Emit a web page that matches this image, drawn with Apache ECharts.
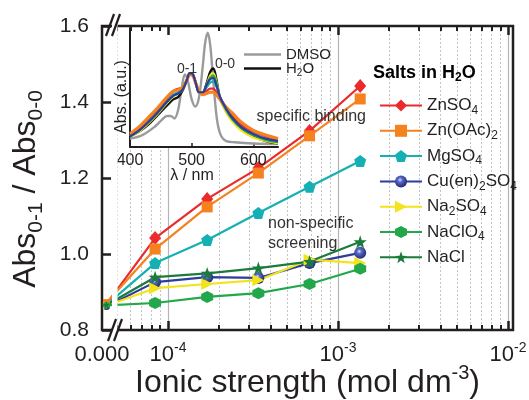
<!DOCTYPE html>
<html>
<head>
<meta charset="utf-8">
<script src="https://cdn.jsdelivr.net/npm/echarts@6.0.0/dist/echarts.min.js"></script>
<style>
	html, body { margin: 0; padding: 0; background: #fff; }
	#chart { width: 529px; height: 400px; }
</style>
</head>
<body>
<div id="chart"></div>
<script>
// ionic strength in mol dm-3, the first point is the salt free solution
const ionicStrength = [0, 8.4e-5, 1.7e-4, 3.4e-4, 6.8e-4, 1.35e-3]

// Abs(0-1) / Abs(0-0) per salt
const saltNames = ['ZnSO4', 'Zn(OAc)2', 'MgSO4', 'Cu(en)2SO4', 'Na2SO4', 'NaClO4', 'NaCl']
const znSO4 = [0.868, 1.042, 1.145, 1.226, 1.324, 1.442]
const znOAc2 = [0.872, 1.013, 1.124, 1.213, 1.311, 1.408]
const mgSO4 = [0.866, 0.976, 1.037, 1.108, 1.177, 1.245]
const cuEn2SO4 = [0.862, 0.926, 0.939, 0.937, 0.976, 1.003]
const na2SO4 = [0.864, 0.910, 0.921, 0.931, 0.985, 0.976]
const naClO4 = [0.865, 0.871, 0.887, 0.897, 0.921, 0.961]
const naCl = [0.866, 0.939, 0.949, 0.963, 0.980, 1.032]

// tick labels of the log axis (exponents of 10)
const xMajorExponents = [-4, -3, -2]
const zeroLabel = '0.000'

// inset: absorption spectra (normalised)
const dmsoWavelength = [400, 420, 440, 452, 460, 466, 472, 478, 484, 489, 494, 500, 506, 512, 518, 522, 526, 530, 534, 538, 542, 548, 556, 570, 600, 640]
const dmsoAbs = [0.07, 0.10, 0.17, 0.23, 0.26, 0.26, 0.24, 0.31, 0.50, 0.61, 0.55, 0.40, 0.34, 0.42, 0.68, 0.88, 0.96, 0.86, 0.62, 0.38, 0.20, 0.09, 0.05, 0.04, 0.03, 0.025]
const waterWavelength = [400, 415, 430, 445, 460, 470, 478, 485, 492, 497, 502, 507, 512, 518, 524, 530, 535, 540, 546, 555, 565, 580, 600, 620, 640]
const waterAbs = [0.09, 0.13, 0.19, 0.27, 0.35, 0.40, 0.42, 0.47, 0.56, 0.62, 0.61, 0.53, 0.46, 0.46, 0.53, 0.63, 0.66, 0.57, 0.41, 0.31, 0.23, 0.16, 0.09, 0.05, 0.03]
const na2SO4Abs = [0.09, 0.13, 0.20, 0.28, 0.37, 0.42, 0.45, 0.48, 0.56, 0.62, 0.61, 0.53, 0.46, 0.46, 0.52, 0.60, 0.62, 0.55, 0.41, 0.30, 0.22, 0.14, 0.08, 0.05, 0.03]
const naClO4Abs = [0.09, 0.14, 0.21, 0.29, 0.38, 0.43, 0.45, 0.48, 0.56, 0.62, 0.61, 0.53, 0.46, 0.46, 0.52, 0.58, 0.60, 0.54, 0.42, 0.32, 0.24, 0.16, 0.10, 0.06, 0.04]
const mgSO4Abs = [0.10, 0.15, 0.22, 0.30, 0.39, 0.44, 0.46, 0.49, 0.56, 0.61, 0.60, 0.53, 0.46, 0.46, 0.50, 0.54, 0.55, 0.51, 0.42, 0.33, 0.25, 0.17, 0.11, 0.07, 0.05]
const znSO4Abs = [0.11, 0.16, 0.24, 0.32, 0.41, 0.47, 0.49, 0.50, 0.56, 0.61, 0.60, 0.53, 0.47, 0.45, 0.47, 0.49, 0.49, 0.46, 0.41, 0.34, 0.27, 0.19, 0.13, 0.09, 0.06]
const znOAc2Abs = [0.11, 0.17, 0.25, 0.33, 0.42, 0.47, 0.48, 0.50, 0.56, 0.61, 0.60, 0.53, 0.47, 0.44, 0.45, 0.46, 0.46, 0.44, 0.40, 0.34, 0.29, 0.21, 0.14, 0.10, 0.07]
const cuEn2SO4Abs = [0.09, 0.14, 0.21, 0.29, 0.38, 0.43, 0.45, 0.48, 0.56, 0.62, 0.61, 0.53, 0.46, 0.46, 0.52, 0.57, 0.58, 0.52, 0.42, 0.33, 0.25, 0.17, 0.11, 0.07, 0.05]

const FONT = "'Liberation Sans', Arial, Helvetica, sans-serif"
const INK = '#231f20'

// x axis works in log10 space, 0 sits just right of the y axis (axis break)
const XMIN = -4.388
const XMAX = -1.971
const ZERO_X = -4.362

const toX = (v) => (v === 0 ? ZERO_X : Math.log10(v))

const minorTicks = []
for (let e = -5; e <= -3; e++) {
	for (let k = 2; k <= 9; k++) {
		const v = Math.log10(k * Math.pow(10, e))
		if (v > XMIN && v < XMAX) minorTicks.push(v)
	}
}

// rich text with sub / superscripts
function richSet(base, small, weight) {
	const off = Math.round(base * 0.3)
	const h = off * 2 + small
	const common = { fontFamily: FONT, color: INK, fontWeight: weight || 'normal' }
	return {
		a: Object.assign({ fontSize: base, lineHeight: h, verticalAlign: 'middle' }, common),
		sub: Object.assign({ fontSize: small, lineHeight: small, verticalAlign: 'bottom' }, common),
		sup: Object.assign({ fontSize: small, lineHeight: small, verticalAlign: 'top' }, common),
	}
}

const saltLabels = {
	'ZnSO4': '{a|ZnSO}{sub|4}',
	'Zn(OAc)2': '{a|Zn(OAc)}{sub|2}',
	'MgSO4': '{a|MgSO}{sub|4}',
	'Cu(en)2SO4': '{a|Cu(en)}{sub|2}{a|SO}{sub|4}',
	'Na2SO4': '{a|Na}{sub|2}{a|SO}{sub|4}',
	'NaClO4': '{a|NaClO}{sub|4}',
	'NaCl': '{a|NaCl}',
}

const pentagon = 'path://M0,-10 L9.51,-3.09 L5.88,8.09 L-5.88,8.09 L-9.51,-3.09 Z'
const hexagon = 'path://M-8.66,-5 L0,-10 L8.66,-5 L8.66,5 L0,10 L-8.66,5 Z'
const star = 'path://M0,-10 L2.35,-3.24 L9.51,-3.09 L3.8,1.24 L5.88,8.09 L0,4 L-5.88,8.09 L-3.8,1.24 L-9.51,-3.09 L-2.35,-3.24 Z'
const ball = new echarts.graphic.RadialGradient(0.42, 0.38, 0.62, [
	{ offset: 0, color: '#dfe4ff' },
	{ offset: 0.3, color: '#5a6cc8' },
	{ offset: 1, color: '#1d2877' },
])

const saltStyles = {
	'ZnSO4': { color: '#ea2a2c', symbol: 'diamond', size: [12, 14] },
	'Zn(OAc)2': { color: '#f5811f', symbol: 'rect', size: 11 },
	'MgSO4': { color: '#15b0b3', symbol: pentagon, size: 12 },
	'Cu(en)2SO4': { color: '#2e3d9b', fill: ball, symbol: 'circle', size: 12 },
	'Na2SO4': { color: '#f2e31a', symbol: 'triangle', size: 12, rotate: -90 },
	'NaClO4': { color: '#22a84a', symbol: hexagon, size: 12 },
	'NaCl': { color: '#1c7b3b', symbol: star, size: 13 },
}
const saltValues = [znSO4, znOAc2, mgSO4, cuEn2SO4, na2SO4, naClO4, naCl]

const mainSeries = saltNames.map((name, i) => {
	const st = saltStyles[name]
	return {
		name: name,
		type: 'line',
		xAxisIndex: 0,
		yAxisIndex: 0,
		data: ionicStrength.map((x, j) => [toX(x), saltValues[i][j]]),
		symbol: st.symbol,
		symbolRotate: st.rotate || 0,
		symbolSize: (val) => (val[0] === ZERO_X ? 7 : st.size),
		lineStyle: { color: st.color, width: 2.2 },
		itemStyle: { color: st.fill || st.color, borderWidth: 0 },
		z: 2,
	}
})

function insetLine(name, wl, vals, color, width) {
	return {
		name: name,
		type: 'line',
		xAxisIndex: 4,
		yAxisIndex: 1,
		data: wl.map((w, i) => [w, vals[i]]),
		symbol: 'none',
		smooth: 0.35,
		lineStyle: { color: color, width: width || 2.2 },
		itemStyle: { color: color },
		z: 5,
	}
}

const insetSeries = [
	insetLine('DMSO', dmsoWavelength, dmsoAbs, '#9b9b9b', 2.4),
	insetLine('H2O', waterWavelength, waterAbs, '#111111', 2.4),
	insetLine('s-Na2SO4', waterWavelength, na2SO4Abs, '#f2e31a'),
	insetLine('s-NaClO4', waterWavelength, naClO4Abs, '#22a84a'),
	insetLine('s-MgSO4', waterWavelength, mgSO4Abs, '#15b0b3'),
	insetLine('s-ZnSO4', waterWavelength, znSO4Abs, '#ea2a2c'),
	insetLine('s-Zn(OAc)2', waterWavelength, znOAc2Abs, '#f5811f', 3.2),
	insetLine('s-Cu(en)2SO4', waterWavelength, cuEn2SO4Abs, '#2e3d9b'),
]

const tickLine = { color: INK, width: 2.5 }
const minorLine = { color: INK, width: 2 }

const option = {
	animation: false,
	backgroundColor: '#fff',
	grid: [
		{
			left: 102, right: 16, top: 26, bottom: 70,
			show: true, borderColor: INK, borderWidth: 2.5, backgroundColor: 'transparent',
			outerBoundsMode: 'none',
		},
		{
			left: 130, top: 28, width: 148, height: 119,
			show: true, borderWidth: 0, backgroundColor: '#fff', z: 3,
			outerBoundsMode: 'none',
		},
	],
	xAxis: [
		{
			type: 'value', gridIndex: 0, position: 'bottom', min: XMIN, max: XMAX,
			axisLine: { show: false, onZero: false },
			axisTick: { inside: true, length: 9, lineStyle: tickLine, customValues: xMajorExponents },
			axisLabel: {
				customValues: [XMIN].concat(xMajorExponents),
				margin: 11,
				formatter: (v) => (v === XMIN ? '{a|' + zeroLabel + '}' : '{a|10}{sup|' + v + '}'),
				rich: richSet(22, 14),
			},
			splitLine: { show: true, lineStyle: { color: '#b4b4b4', width: 1.2 } },
			name: '{a|Ionic strength (mol dm}{sup|-3}{a|)}',
			nameLocation: 'middle',
			nameGap: 33,
			nameMoveOverlap: false,
			nameTextStyle: { rich: richSet(32, 20) },
		},
		{
			type: 'value', gridIndex: 0, position: 'bottom', min: XMIN, max: XMAX,
			axisLine: { show: false, onZero: false },
			axisTick: { inside: true, length: 5, lineStyle: minorLine, customValues: minorTicks },
			axisLabel: { show: false },
			splitLine: { show: true, lineStyle: { color: '#c4c4c4', width: 1, type: [2, 2] } },
		},
		{
			type: 'value', gridIndex: 0, position: 'top', min: XMIN, max: XMAX, z: 6,
			axisLine: { show: false, onZero: false },
			axisTick: { inside: true, length: 9, lineStyle: tickLine, customValues: xMajorExponents },
			axisLabel: { show: false },
			splitLine: { show: false },
		},
		{
			type: 'value', gridIndex: 0, position: 'top', min: XMIN, max: XMAX, z: 6,
			axisLine: { show: false, onZero: false },
			axisTick: { inside: true, length: 5, lineStyle: minorLine, customValues: minorTicks },
			axisLabel: { show: false },
			splitLine: { show: false },
		},
		{
			type: 'value', gridIndex: 1, min: 400, max: 640, interval: 100, z: 4,
			axisLine: { show: true, onZero: false, lineStyle: { color: INK, width: 2 } },
			axisTick: { inside: true, length: 4, lineStyle: { color: INK, width: 1.5 } },
			axisLabel: { fontSize: 16, fontFamily: FONT, color: INK, margin: 6, showMaxLabel: false },
			splitLine: { show: false },
		},
	],
	yAxis: [
		{
			type: 'value', gridIndex: 0, min: 0.8, max: 1.6, interval: 0.2,
			axisLine: { show: false, onZero: false },
			axisTick: { inside: true, length: 9, lineStyle: tickLine },
			axisLabel: { fontSize: 21, fontFamily: FONT, color: INK, margin: 13, formatter: (v) => v.toFixed(1) },
			splitLine: { show: false },
			name: '{a|Abs}{sub|0-1}{a| / Abs}{sub|0-0}',
			nameLocation: 'middle',
			nameRotate: 90,
			nameGap: 55,
			nameMoveOverlap: false,
			nameTextStyle: { rich: richSet(32, 21), padding: [0, 22, 0, 0] },
		},
		{
			type: 'value', gridIndex: 1, min: 0, max: 1, z: 4,
			axisLine: { show: true, onZero: false, lineStyle: { color: INK, width: 2 } },
			axisTick: { show: false },
			axisLabel: { show: false },
			splitLine: { show: false },
		},
	],
	legend: [
		{
			data: saltNames,
			orient: 'vertical',
			left: 374,
			top: 92,
			itemWidth: 42,
			itemHeight: 15,
			itemGap: 5.8,
			selectedMode: false,
			formatter: (name) => saltLabels[name],
			textStyle: { rich: richSet(17, 12) },
		},
		{
			data: ['DMSO', 'H2O'],
			orient: 'vertical',
			left: 239,
			top: 42,
			icon: 'rect',
			itemWidth: 37,
			itemHeight: 2.5,
			itemGap: -1,
			selectedMode: false,
			z: 6,
			formatter: (name) => (name === 'H2O' ? '{a|H}{sub|2}{a|O}' : '{a|' + name + '}'),
			textStyle: { rich: richSet(15, 10) },
		},
	],
	graphic: [
		// axis break
		{ type: 'rect', z: 100, shape: { x: 112, y: 16, width: 5.5, height: 322 }, style: { fill: '#fff' } },
		{ type: 'line', z: 101, shape: { x1: 106, y1: 36, x2: 114, y2: 14 }, style: { stroke: INK, lineWidth: 2.2 } },
		{ type: 'line', z: 101, shape: { x1: 112, y1: 36, x2: 120, y2: 14 }, style: { stroke: INK, lineWidth: 2.2 } },
		{ type: 'line', z: 101, shape: { x1: 108, y1: 341, x2: 116, y2: 319 }, style: { stroke: INK, lineWidth: 2.2 } },
		{ type: 'line', z: 101, shape: { x1: 114, y1: 341, x2: 122, y2: 319 }, style: { stroke: INK, lineWidth: 2.2 } },
		// legend title
		{
			type: 'text', z: 101, x: 373, y: 62,
			style: { text: '{a|Salts in H}{sub|2}{a|O}', rich: richSet(18, 12, 'bold') },
		},
		// annotations
		{
			type: 'text', z: 101, x: 366, y: 117,
			style: { text: 'specific binding', font: '16px ' + FONT, fill: '#333', align: 'right', verticalAlign: 'middle' },
		},
		{
			type: 'text', z: 101, x: 268, y: 224,
			style: { text: 'non-specific', font: '16px ' + FONT, fill: '#333', verticalAlign: 'middle' },
		},
		{
			type: 'text', z: 101, x: 268, y: 244,
			style: { text: 'screening', font: '16px ' + FONT, fill: '#333', verticalAlign: 'middle' },
		},
		// inset texts
		{
			type: 'text', z: 101, x: 187, y: 69,
			style: { text: '0-1', font: '14px ' + FONT, fill: '#333', align: 'center', verticalAlign: 'middle' },
		},
		{
			type: 'text', z: 101, x: 225, y: 64,
			style: { text: '0-0', font: '14px ' + FONT, fill: '#333', align: 'center', verticalAlign: 'middle' },
		},
		{
			type: 'text', z: 101, x: 122, y: 97, rotation: Math.PI / 2,
			style: { text: 'Abs. (a.u.)', font: '16px ' + FONT, fill: INK, align: 'center', verticalAlign: 'middle' },
		},
		{
			type: 'text', z: 101, x: 192, y: 176,
			style: { text: 'λ / nm', font: '16px ' + FONT, fill: INK, align: 'center', verticalAlign: 'middle' },
		},
	],
	series: mainSeries.concat(insetSeries),
}

const chart = echarts.init(document.getElementById('chart'), null, { renderer: 'canvas' })
chart.setOption(option)
window.addEventListener('resize', chart.resize)
</script>
</body>
</html>
